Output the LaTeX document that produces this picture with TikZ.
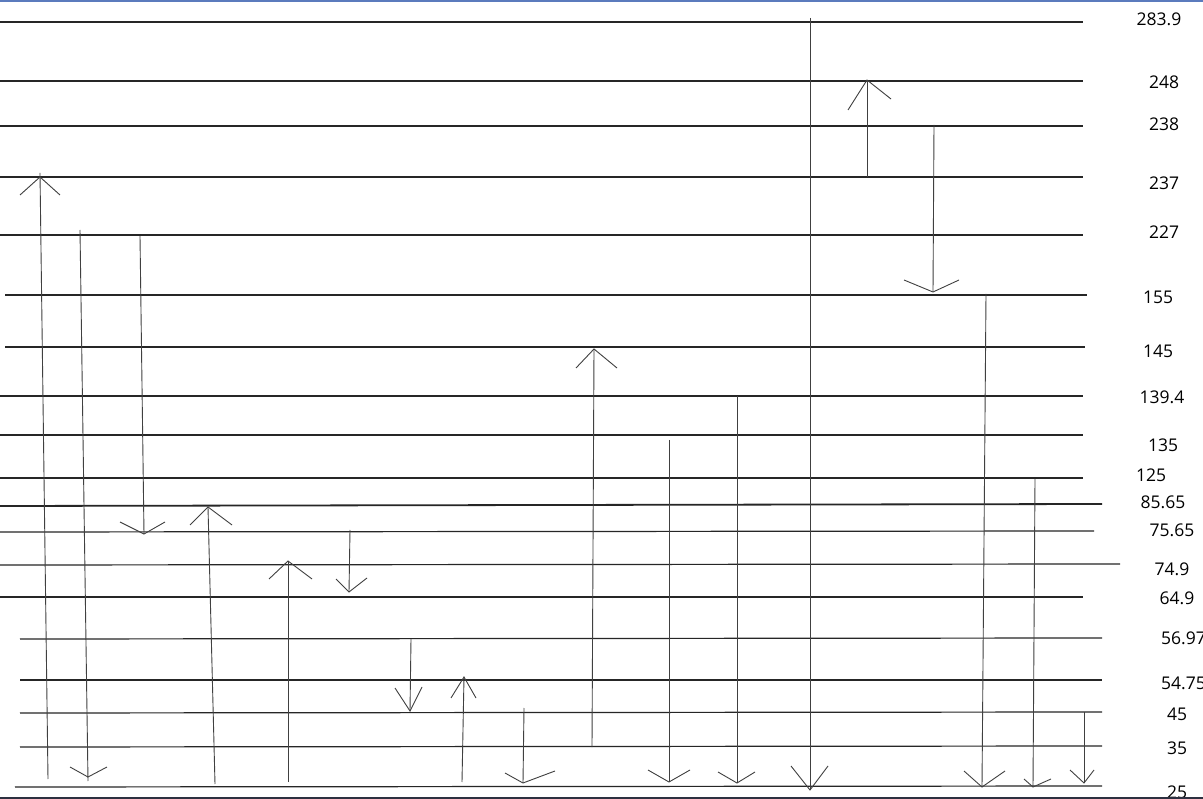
\documentclass[tikz,border=0pt]{standalone}
\usepackage{fontspec}
\setmainfont{Open Sans}
\begin{document}
\begin{tikzpicture}[x=1pt,y=-1pt,
  level/.style={line width=1.2pt,black!85},
  arr/.style={line width=0.9pt,black!75},
  lab/.style={font=\fontsize{17.5}{19}\selectfont,text=black,inner sep=0pt}]
\useasboundingbox (0,0) rectangle (1203,799);
\fill[white] (0,0) rectangle (1203,799);
% energy levels
\draw[level] (0,22) -- (1083,22);
\draw[level] (0,81) -- (1083,81);
\draw[level] (0,126) -- (1083,126);
\draw[level] (0,177) -- (1083,177);
\draw[level] (0,235) -- (1083,235);
\draw[level] (5,295) -- (1087,295);
\draw[level] (5,347) -- (1085,347);
\draw[level] (0,396) -- (1083,396);
\draw[level] (0,435) -- (1083,435);
\draw[level] (0,478) -- (1083,478);
\draw[level,line width=1.8pt] (0,506) -- (1102,504);
\draw[level] (0,532) -- (1094,531);
\draw[level] (0,565) -- (1120,564);
\draw[level] (0,597) -- (1083,597);
\draw[level] (20,639) -- (1102,638);
\draw[level] (20,680) -- (1102,680);
\draw[level] (20,713) -- (1102,712);
\draw[level] (20,747) -- (1102,746);
\draw[level] (15,787) -- (1102,786);
% labels
\node[lab] (l1) at (1159,19) {283.9};
\node[lab] (l2) at (1164,82) {248};
\node[lab] (l3) at (1164,124) {238};
\node[lab] (l4) at (1164,183) {237};
\node[lab] (l5) at (1164,232) {227};
\node[lab] (l6) at (1158,297) {155};
\node[lab] (l7) at (1158,351) {145};
\node[lab] (l8) at (1162,397) {139.4};
\node[lab] (l9) at (1163,445) {135};
\node[lab] (l10) at (1151,475) {125};
\node[lab] (l11) at (1163,502) {85.65};
\node[lab] (l12) at (1172,530) {75.65};
\node[lab] (l13) at (1172,569) {74.9};
\node[lab] (l14) at (1177,598) {64.9};
\node[lab,anchor=west] (l15) at (1161,638) {56.97};
\node[lab,anchor=west] (l16) at (1161,683) {54.75};
\node[lab] (l17) at (1177,714) {45};
\node[lab] (l18) at (1177,748) {35};
\node[lab] (l19) at (1177,792) {25};
% transitions
% 1 up
\draw[arr] (48,779) -- (40,173);
\draw[arr] (20,195) -- (40,177) -- (60,195);
% 2 down
\draw[arr] (80,230) -- (88,781);
\draw[arr] (70,767) -- (88,777) -- (107,767);
% 3 down
\draw[arr] (140,236) -- (144,534);
\draw[arr] (120,522) -- (144,534) -- (165,522);
% 4 up
\draw[arr] (215,784) -- (208,507);
\draw[arr] (190,525) -- (208,507) -- (232,525);
% 5 up
\draw[arr] (288,782) -- (288,561);
\draw[arr] (269,579) -- (288,561) -- (312,579);
% 6 down
\draw[arr] (350,530) -- (349,592);
\draw[arr] (336,579) -- (349,592) -- (367,578);
% 7 down
\draw[arr] (411,639) -- (410,711);
\draw[arr] (395,688) -- (410,711) -- (422,687);
% 8 up
\draw[arr] (462,782) -- (464,677);
\draw[arr] (451,698) -- (464,677) -- (476,698);
% 9 down
\draw[arr] (524,708) -- (523,783);
\draw[arr] (505,773) -- (523,783) -- (555,771);
% 10 up
\draw[arr] (592,747) -- (594,349);
\draw[arr] (576,368) -- (594,349) -- (617,368);
% 11 down
\draw[arr] (669,440) -- (669,782);
\draw[arr] (648,770) -- (669,782) -- (690,770);
% 12 down
\draw[arr] (737,396) -- (737,783);
\draw[arr] (718,772) -- (737,783) -- (755,772);
% 13 down
\draw[arr] (810,18) -- (810,790);
\draw[arr] (791,766) -- (810,790) -- (828,766);
% 14 up
\draw[arr] (867,177) -- (867,80);
\draw[arr] (848,110) -- (867,80) -- (891,99);
% 15 down
\draw[arr] (934,125) -- (933,292);
\draw[arr] (904,280) -- (933,292) -- (959,280);
% 16 down
\draw[arr] (986,294) -- (982,787);
\draw[arr] (964,771) -- (982,787) -- (1005,771);
% 17 down
\draw[arr] (1035,479) -- (1033,787);
\draw[arr] (1024,779) -- (1033,787) -- (1051,779);
% 18 down
\draw[arr] (1084,712) -- (1084,783);
\draw[arr] (1070,770) -- (1084,783) -- (1094,770);
% frame bars
\fill[fill={rgb,255:red,91;green,123;blue,189}] (0,0) rectangle (1203,2.5);
\fill[fill={rgb,255:red,45;green,48;blue,64}] (0,797) rectangle (1203,799);
\end{tikzpicture}
\end{document}
